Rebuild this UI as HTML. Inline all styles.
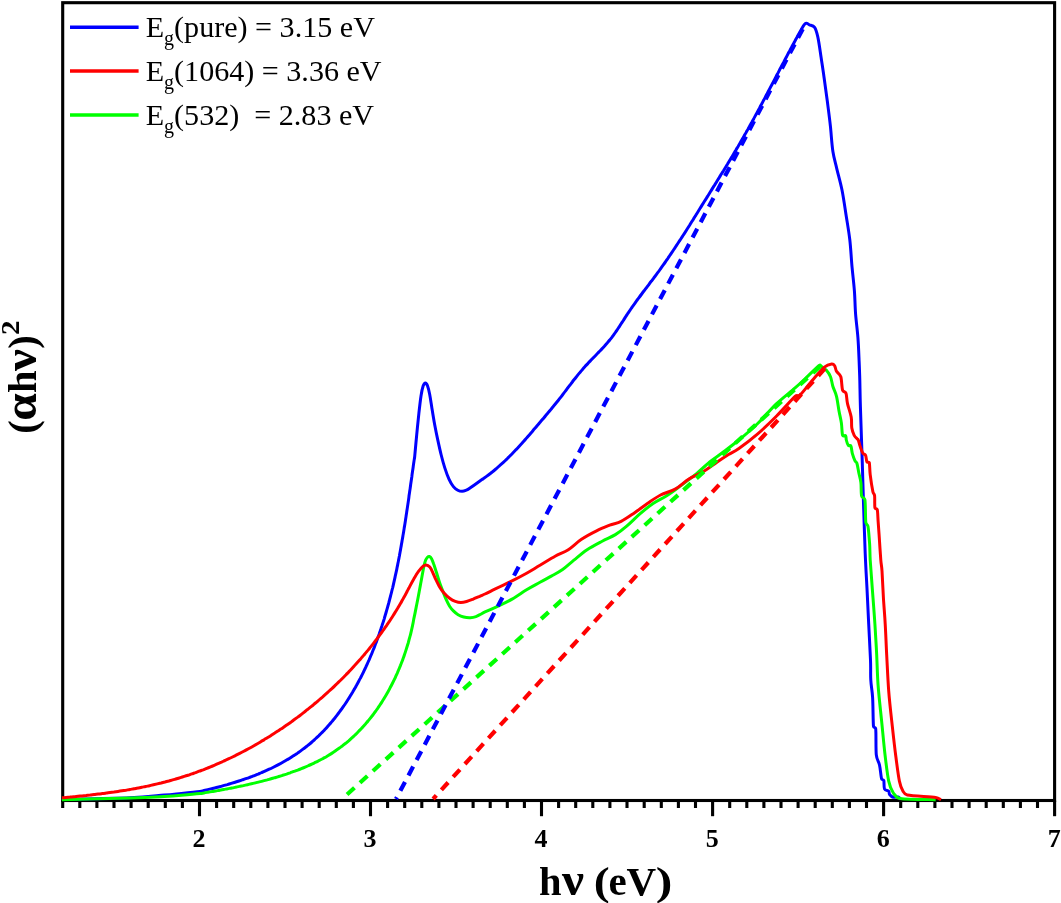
<!DOCTYPE html>
<html><head><meta charset="utf-8"><title>Tauc plot</title>
<style>
html,body{margin:0;padding:0;background:#fff;}
body{width:1061px;height:903px;overflow:hidden;position:relative;}
svg{position:absolute;left:0;top:0;display:block;}
text{font-family:"Liberation Serif","Times New Roman",serif;fill:#000;}
.tick text{font-weight:bold;font-size:26px;}
.leg{font-size:30.1px;}
.sub{font-size:20px;}
</style></head><body>
<svg width="1061" height="903" viewBox="0 0 1061 903">
<rect x="0" y="0" width="1061" height="903" fill="#fff"/>
<g stroke="#000" stroke-width="3.1" fill="none">
<rect x="62.7" y="2.7" width="991.9" height="797.8"/>
<line x1="62.7" y1="800.5" x2="62.7" y2="808"/><line x1="79.8" y1="800.5" x2="79.8" y2="808"/><line x1="96.9" y1="800.5" x2="96.9" y2="808"/><line x1="114.0" y1="800.5" x2="114.0" y2="808"/><line x1="131.1" y1="800.5" x2="131.1" y2="808"/><line x1="148.2" y1="800.5" x2="148.2" y2="808"/><line x1="165.3" y1="800.5" x2="165.3" y2="808"/><line x1="182.4" y1="800.5" x2="182.4" y2="808"/><line x1="199.5" y1="800.5" x2="199.5" y2="816.2"/><line x1="216.6" y1="800.5" x2="216.6" y2="808"/><line x1="233.7" y1="800.5" x2="233.7" y2="808"/><line x1="250.8" y1="800.5" x2="250.8" y2="808"/><line x1="267.9" y1="800.5" x2="267.9" y2="808"/><line x1="285.0" y1="800.5" x2="285.0" y2="808"/><line x1="302.1" y1="800.5" x2="302.1" y2="808"/><line x1="319.2" y1="800.5" x2="319.2" y2="808"/><line x1="336.3" y1="800.5" x2="336.3" y2="808"/><line x1="353.4" y1="800.5" x2="353.4" y2="808"/><line x1="370.5" y1="800.5" x2="370.5" y2="816.2"/><line x1="387.6" y1="800.5" x2="387.6" y2="808"/><line x1="404.7" y1="800.5" x2="404.7" y2="808"/><line x1="421.8" y1="800.5" x2="421.8" y2="808"/><line x1="438.9" y1="800.5" x2="438.9" y2="808"/><line x1="456.0" y1="800.5" x2="456.0" y2="808"/><line x1="473.1" y1="800.5" x2="473.1" y2="808"/><line x1="490.2" y1="800.5" x2="490.2" y2="808"/><line x1="507.3" y1="800.5" x2="507.3" y2="808"/><line x1="524.4" y1="800.5" x2="524.4" y2="808"/><line x1="541.5" y1="800.5" x2="541.5" y2="816.2"/><line x1="558.6" y1="800.5" x2="558.6" y2="808"/><line x1="575.7" y1="800.5" x2="575.7" y2="808"/><line x1="592.8" y1="800.5" x2="592.8" y2="808"/><line x1="609.9" y1="800.5" x2="609.9" y2="808"/><line x1="627.0" y1="800.5" x2="627.0" y2="808"/><line x1="644.2" y1="800.5" x2="644.2" y2="808"/><line x1="661.3" y1="800.5" x2="661.3" y2="808"/><line x1="678.4" y1="800.5" x2="678.4" y2="808"/><line x1="695.5" y1="800.5" x2="695.5" y2="808"/><line x1="712.6" y1="800.5" x2="712.6" y2="816.2"/><line x1="729.7" y1="800.5" x2="729.7" y2="808"/><line x1="746.8" y1="800.5" x2="746.8" y2="808"/><line x1="763.9" y1="800.5" x2="763.9" y2="808"/><line x1="781.0" y1="800.5" x2="781.0" y2="808"/><line x1="798.1" y1="800.5" x2="798.1" y2="808"/><line x1="815.2" y1="800.5" x2="815.2" y2="808"/><line x1="832.3" y1="800.5" x2="832.3" y2="808"/><line x1="849.4" y1="800.5" x2="849.4" y2="808"/><line x1="866.5" y1="800.5" x2="866.5" y2="808"/><line x1="883.6" y1="800.5" x2="883.6" y2="816.2"/><line x1="900.7" y1="800.5" x2="900.7" y2="808"/><line x1="917.8" y1="800.5" x2="917.8" y2="808"/><line x1="934.9" y1="800.5" x2="934.9" y2="808"/><line x1="952.0" y1="800.5" x2="952.0" y2="808"/><line x1="969.1" y1="800.5" x2="969.1" y2="808"/><line x1="986.2" y1="800.5" x2="986.2" y2="808"/><line x1="1003.3" y1="800.5" x2="1003.3" y2="808"/><line x1="1020.4" y1="800.5" x2="1020.4" y2="808"/><line x1="1037.5" y1="800.5" x2="1037.5" y2="808"/><line x1="1054.6" y1="800.5" x2="1054.6" y2="816.2"/>
</g>
<g fill="none" stroke-width="3" stroke-linejoin="round" stroke-linecap="butt">
<path d="M62.0,799.6 C73.3,799.3 112.9,798.5 129.9,797.8 C146.9,797.0 155.6,795.8 164.2,795.1 C172.8,794.4 175.4,794.0 181.4,793.4 C187.4,792.8 196.2,791.9 200.0,791.4 C202.0,791.2 202.6,790.8 203.9,790.5 C205.2,790.2 206.5,789.9 207.8,789.6 C209.1,789.3 210.4,789.0 211.7,788.7 C213.0,788.4 214.3,788.0 215.6,787.7 C216.9,787.4 218.2,787.0 219.5,786.7 C220.8,786.4 222.1,786.0 223.4,785.6 C224.7,785.3 226.0,784.9 227.3,784.6 C228.6,784.2 229.9,783.8 231.2,783.4 C232.5,783.0 233.8,782.6 235.1,782.2 C236.4,781.8 237.7,781.4 239.0,781.0 C240.3,780.6 241.5,780.2 242.8,779.7 C244.1,779.3 245.4,778.9 246.7,778.4 C248.0,778.0 249.2,777.5 250.5,777.0 C251.8,776.6 253.0,776.1 254.3,775.6 C255.6,775.1 256.8,774.6 258.1,774.1 C259.3,773.6 260.6,773.1 261.8,772.5 C263.1,772.0 264.3,771.5 265.5,770.9 C266.8,770.4 268.0,769.8 269.2,769.2 C270.4,768.7 271.7,768.1 272.9,767.5 C274.1,766.9 275.3,766.3 276.5,765.7 C277.7,765.1 278.9,764.4 280.0,763.8 C281.2,763.2 282.4,762.5 283.6,761.8 C284.7,761.2 285.9,760.5 287.0,759.8 C288.2,759.1 289.3,758.5 290.5,757.7 C291.6,757.0 292.7,756.3 293.8,755.6 C295.0,754.9 296.1,754.1 297.2,753.4 C298.3,752.6 299.3,751.9 300.4,751.1 C301.5,750.3 302.6,749.5 303.6,748.7 C304.7,747.9 305.7,747.1 306.8,746.3 C307.8,745.5 308.8,744.6 309.9,743.8 C310.9,742.9 311.9,742.1 312.9,741.2 C313.9,740.3 314.8,739.4 315.8,738.5 C316.8,737.6 317.7,736.7 318.7,735.8 C319.6,734.9 320.6,734.0 321.5,733.0 C322.4,732.1 323.4,731.2 324.3,730.2 C325.2,729.2 326.1,728.3 327.0,727.3 C327.8,726.3 328.7,725.3 329.6,724.3 C330.5,723.3 331.3,722.3 332.2,721.3 C333.0,720.3 333.8,719.3 334.7,718.2 C335.5,717.2 336.3,716.2 337.1,715.1 C337.9,714.1 338.7,713.0 339.5,711.9 C340.3,710.9 341.1,709.8 341.9,708.7 C342.6,707.6 343.4,706.5 344.1,705.5 C344.9,704.4 345.6,703.3 346.4,702.1 C347.1,701.0 347.8,699.9 348.5,698.8 C349.2,697.7 350.0,696.5 350.6,695.4 C351.3,694.3 352.0,693.1 352.7,692.0 C353.4,690.8 354.1,689.7 354.7,688.5 C355.4,687.4 356.0,686.2 356.7,685.0 C357.3,683.9 358.0,682.7 358.6,681.5 C359.2,680.3 359.8,679.1 360.5,678.0 C361.1,676.8 361.7,675.6 362.3,674.4 C362.9,673.2 363.5,672.0 364.0,670.8 C364.6,669.6 365.2,668.4 365.8,667.2 C366.3,666.0 366.9,664.8 367.4,663.6 C368.0,662.3 368.5,661.1 369.1,659.9 C369.6,658.7 370.1,657.5 370.6,656.2 C371.2,655.0 371.7,653.8 372.2,652.5 C372.7,651.3 373.2,650.1 373.7,648.8 C374.2,647.6 374.7,646.4 375.1,645.1 C375.6,643.9 376.1,642.6 376.6,641.4 C377.0,640.1 377.5,638.9 377.9,637.6 C378.4,636.4 378.8,635.1 379.3,633.8 C379.7,632.6 380.1,631.3 380.6,630.1 C381.0,628.8 381.4,627.5 381.8,626.3 C382.2,625.0 382.7,623.7 383.1,622.4 C383.5,621.2 383.9,619.9 384.3,618.6 C384.6,617.3 385.0,616.1 385.4,614.8 C385.8,613.5 386.2,612.2 386.5,610.9 C386.9,609.6 387.3,608.3 387.6,607.1 C388.0,605.8 388.3,604.5 388.7,603.2 C389.0,601.9 389.4,600.6 389.7,599.3 C390.1,598.0 390.4,596.7 390.7,595.4 C391.1,594.1 391.4,592.8 391.7,591.5 C392.0,590.2 392.3,588.9 392.7,587.6 C393.0,586.3 393.3,585.0 393.6,583.6 C393.9,582.3 394.2,581.0 394.5,579.7 C394.8,578.4 395.1,577.1 395.3,575.8 C395.6,574.5 395.9,573.1 396.2,571.8 C396.5,570.5 396.8,569.2 397.0,567.9 C397.3,566.5 397.6,565.2 397.8,563.9 C398.1,562.6 398.4,561.3 398.6,559.9 C398.9,558.6 399.1,557.3 399.4,556.0 C399.6,554.6 399.9,553.3 400.1,552.0 C400.4,550.7 400.6,549.3 400.8,548.0 C401.1,546.7 401.3,545.4 401.5,544.0 C401.8,542.7 402.0,541.4 402.2,540.0 C402.5,538.7 402.7,537.4 402.9,536.0 C403.1,534.7 403.4,533.4 403.6,532.1 C403.8,530.7 404.0,529.4 404.2,528.1 C404.4,526.7 404.7,525.4 404.9,524.1 C405.1,522.7 405.3,521.4 405.5,520.1 C405.7,518.7 405.9,517.4 406.1,516.1 C406.3,514.7 406.5,513.4 406.7,512.1 C406.9,510.7 407.1,509.4 407.3,508.1 C407.5,506.8 407.7,505.4 407.9,504.1 C408.1,502.8 408.3,501.4 408.5,500.1 C408.7,498.8 408.9,497.4 409.0,496.1 C409.2,494.8 409.4,493.5 409.6,492.1 C409.8,490.8 410.0,489.5 410.2,488.1 C410.4,486.8 410.6,485.5 410.7,484.2 C410.9,482.8 411.1,481.5 411.3,480.2 C411.5,478.9 411.7,477.5 411.9,476.2 C412.0,474.9 412.2,473.6 412.4,472.3 C412.6,470.9 412.8,469.6 413.0,468.3 C413.2,467.0 413.3,465.7 413.5,464.4 C413.7,463.0 413.9,461.7 414.1,460.4 C414.3,459.1 414.5,458.5 414.7,456.5 C415.1,452.2 416.0,442.0 416.7,434.8 C417.4,427.6 418.2,419.7 418.9,413.2 C419.6,406.7 420.3,400.5 421.0,395.9 C421.7,391.3 422.5,387.9 423.2,385.8 C423.8,384.1 424.7,383.0 425.4,383.0 C426.1,383.0 426.9,384.2 427.5,385.8 C428.2,387.7 429.0,390.9 429.7,394.5 C430.4,398.1 431.0,402.4 431.8,407.4 C432.6,412.4 433.7,419.4 434.7,424.7 C435.7,430.0 436.5,434.1 437.6,439.1 C438.7,444.2 440.0,450.2 441.2,455.0 C442.4,459.8 443.5,463.8 444.8,467.9 C446.1,472.0 447.7,476.3 449.1,479.4 C450.5,482.5 451.9,484.8 453.4,486.6 C454.8,488.4 456.4,489.4 457.8,490.2 C459.2,491.0 460.7,491.3 462.1,491.3 C463.5,491.3 465.1,490.7 466.4,490.2 C467.7,489.7 468.3,489.3 470.0,488.1 C472.2,486.6 477.7,482.6 479.9,481.0 C481.5,479.8 482.1,479.5 483.2,478.7 C484.3,478.0 485.4,477.2 486.5,476.4 C487.6,475.6 488.7,474.8 489.7,474.0 C490.8,473.2 491.8,472.3 492.9,471.5 C493.9,470.7 494.9,469.8 495.9,469.0 C496.9,468.1 498.0,467.2 498.9,466.3 C499.9,465.5 500.9,464.6 501.9,463.7 C502.9,462.8 503.9,461.9 504.8,461.0 C505.8,460.1 506.8,459.1 507.7,458.2 C508.7,457.3 509.6,456.3 510.5,455.4 C511.5,454.5 512.4,453.5 513.3,452.5 C514.2,451.6 515.2,450.6 516.1,449.6 C517.0,448.7 517.9,447.7 518.8,446.7 C519.7,445.7 520.6,444.7 521.5,443.8 C522.4,442.8 523.3,441.8 524.2,440.8 C525.1,439.8 525.9,438.8 526.8,437.8 C527.7,436.7 528.6,435.7 529.5,434.7 C530.3,433.7 531.2,432.7 532.1,431.7 C533.0,430.6 533.8,429.6 534.7,428.6 C535.6,427.6 536.5,426.5 537.3,425.5 C538.2,424.5 539.1,423.5 539.9,422.4 C540.8,421.4 541.7,420.4 542.6,419.3 C543.4,418.3 544.3,417.3 545.2,416.2 C546.0,415.2 546.9,414.2 547.8,413.1 C548.7,412.1 549.5,411.1 550.4,410.0 C551.2,409.0 552.1,408.0 552.9,406.9 C553.8,405.9 554.6,404.9 555.5,403.8 C556.3,402.8 557.1,401.8 558.0,400.7 C558.8,399.7 559.6,398.7 560.4,397.6 C561.2,396.6 562.0,395.5 562.8,394.5 C563.6,393.5 564.4,392.4 565.2,391.4 C566.0,390.3 566.7,389.3 567.5,388.2 C568.3,387.2 569.1,386.2 569.9,385.1 C570.7,384.1 571.5,383.0 572.3,382.0 C573.1,380.9 574.0,379.8 574.8,378.8 C575.6,377.7 576.5,376.7 577.3,375.6 C578.1,374.6 579.0,373.5 579.9,372.5 C580.7,371.5 581.6,370.4 582.5,369.4 C583.4,368.4 584.3,367.3 585.2,366.3 C586.1,365.3 587.0,364.4 587.9,363.4 C588.8,362.4 589.8,361.4 590.7,360.4 C591.6,359.5 592.6,358.5 593.5,357.6 C594.4,356.6 595.4,355.6 596.3,354.7 C597.2,353.7 598.2,352.8 599.1,351.8 C600.0,350.9 600.9,349.9 601.9,348.9 C602.8,348.0 603.7,347.0 604.6,346.0 C605.4,345.0 606.3,344.0 607.2,343.0 C608.0,342.0 608.9,341.0 609.7,340.0 C610.6,339.0 611.4,337.9 612.2,336.9 C613.0,335.8 613.7,334.8 614.5,333.7 C615.3,332.6 616.0,331.5 616.8,330.5 C617.5,329.4 618.2,328.3 619.0,327.2 C619.7,326.0 620.4,324.9 621.1,323.8 C621.8,322.7 622.6,321.6 623.3,320.5 C624.0,319.3 624.7,318.2 625.4,317.1 C626.2,316.0 626.9,314.8 627.6,313.7 C628.4,312.6 629.1,311.5 629.9,310.4 C630.6,309.3 631.4,308.2 632.1,307.1 C632.9,306.0 633.7,304.9 634.5,303.8 C635.3,302.7 636.1,301.6 636.8,300.5 C637.6,299.4 638.4,298.3 639.3,297.2 C640.1,296.2 640.9,295.1 641.7,294.0 C642.5,292.9 643.3,291.8 644.1,290.8 C644.9,289.7 645.7,288.6 646.6,287.5 C647.4,286.4 648.2,285.4 649.0,284.3 C649.8,283.2 650.6,282.1 651.5,281.1 C652.3,280.0 653.1,278.9 653.9,277.8 C654.7,276.8 655.5,275.7 656.3,274.6 C657.1,273.5 657.9,272.4 658.7,271.4 C659.5,270.3 660.2,269.2 661.0,268.1 C661.8,267.0 662.6,265.9 663.3,264.9 C664.1,263.8 664.9,262.7 665.6,261.6 C666.4,260.5 667.1,259.4 667.9,258.3 C668.6,257.2 669.4,256.1 670.1,255.0 C670.9,253.9 671.6,252.8 672.4,251.7 C673.1,250.6 673.8,249.5 674.6,248.4 C675.3,247.3 676.0,246.2 676.7,245.1 C677.5,244.0 678.2,242.9 678.9,241.8 C679.6,240.7 680.4,239.6 681.1,238.5 C681.8,237.4 682.5,236.3 683.2,235.2 C683.9,234.1 684.6,233.0 685.4,231.8 C686.1,230.7 686.8,229.6 687.5,228.5 C688.2,227.4 688.9,226.3 689.6,225.2 C690.3,224.0 691.0,222.9 691.7,221.8 C692.4,220.7 693.1,219.6 693.8,218.4 C694.5,217.3 695.2,216.2 695.9,215.1 C696.6,213.9 697.3,212.8 698.0,211.7 C698.7,210.6 699.4,209.4 700.1,208.3 C700.8,207.2 701.5,206.0 702.2,204.9 C702.9,203.8 703.6,202.7 704.3,201.5 C705.0,200.4 705.7,199.3 706.5,198.1 C707.2,197.0 707.9,195.8 708.6,194.7 C709.3,193.6 710.0,192.4 710.7,191.3 C711.4,190.2 712.1,189.0 712.8,187.9 C713.5,186.7 714.3,185.6 715.0,184.4 C715.7,183.3 716.4,182.2 717.1,181.0 C717.8,179.9 718.5,178.7 719.2,177.6 C719.9,176.4 720.6,175.3 721.3,174.1 C722.1,173.0 722.8,171.8 723.5,170.7 C724.2,169.5 724.9,168.4 725.6,167.2 C726.3,166.1 727.0,164.9 727.7,163.8 C728.4,162.6 729.1,161.5 729.8,160.3 C730.5,159.2 731.2,158.0 731.9,156.9 C732.6,155.7 733.3,154.5 734.0,153.4 C734.6,152.2 735.3,151.1 736.0,149.9 C736.7,148.7 737.4,147.6 738.1,146.4 C738.7,145.3 739.4,144.1 740.1,142.9 C740.8,141.8 741.4,140.6 742.1,139.4 C742.8,138.3 743.5,137.1 744.1,136.0 C744.8,134.8 745.4,133.6 746.1,132.5 C746.8,131.3 747.4,130.1 748.1,129.0 C748.7,127.8 749.4,126.6 750.0,125.4 C750.7,124.3 751.3,123.1 752.0,121.9 C752.6,120.8 753.2,119.6 753.9,118.4 C754.5,117.3 755.2,116.1 755.8,114.9 C756.4,113.7 757.1,112.6 757.7,111.4 C758.3,110.2 759.0,109.0 759.6,107.9 C760.2,106.7 760.8,105.5 761.5,104.3 C762.1,103.2 762.7,102.0 763.3,100.8 C764.0,99.6 764.6,98.5 765.2,97.3 C765.8,96.1 766.5,94.9 767.1,93.8 C767.7,92.6 768.3,91.4 768.9,90.2 C769.6,89.1 770.2,87.9 770.8,86.7 C771.4,85.5 772.0,84.3 772.6,83.2 C773.3,82.0 773.9,80.8 774.5,79.6 C775.1,78.5 775.7,77.3 776.3,76.1 C777.0,74.9 777.6,73.7 778.2,72.6 C778.8,71.4 779.4,70.2 780.0,69.0 C780.7,67.8 781.3,66.7 781.9,65.5 C782.5,64.3 783.1,63.1 783.8,62.0 C784.4,60.8 785.0,59.6 785.6,58.4 C786.2,57.2 786.9,56.1 787.5,54.9 C788.1,53.7 788.7,52.5 789.4,51.3 C790.0,50.2 790.6,49.0 791.3,47.8 C791.9,46.6 792.5,45.5 793.2,44.3 C793.8,43.1 794.4,41.9 795.1,40.7 C795.7,39.6 796.3,38.4 797.0,37.2 C797.6,36.0 797.9,35.4 798.9,33.7 C800.3,31.4 803.4,25.1 805.2,23.6 C806.9,22.2 807.8,24.2 809.4,24.8 C811.0,25.4 813.2,25.3 814.6,27.3 C816.0,29.3 816.7,31.9 817.8,36.8 C818.9,41.7 820.0,50.0 821.0,56.8 C822.0,63.6 823.1,70.4 824.1,77.8 C825.1,85.2 826.2,92.9 827.3,101.0 C828.3,109.1 829.5,117.8 830.4,126.2 C831.3,134.6 831.8,144.5 832.9,151.5 C834.0,158.5 835.2,161.9 836.7,168.3 C838.2,174.7 840.4,182.0 842.0,190.0 C843.6,198.0 845.0,208.2 846.3,216.5 C847.6,224.8 848.8,231.3 849.8,239.8 C850.8,248.3 851.3,259.2 852.1,267.7 C852.9,276.2 853.8,283.1 854.4,290.9 C855.0,298.6 855.0,306.4 855.6,314.2 C856.2,321.9 857.3,329.6 857.9,337.4 C858.5,345.1 858.8,353.6 859.1,360.7 C859.4,367.8 859.6,372.4 859.8,380.0 C860.0,387.6 860.0,393.3 860.4,406.6 C860.8,420.5 861.8,447.5 862.3,463.1 C862.8,478.7 862.9,485.0 863.4,500.0 C863.9,515.0 864.6,538.4 865.2,553.2 C865.8,568.0 866.4,576.8 867.0,588.6 C867.6,600.4 868.1,612.1 868.7,624.0 C869.3,635.9 870.1,650.7 870.5,660.0 C870.9,669.3 870.4,673.8 870.8,680.0 C871.1,686.2 872.1,689.5 872.6,697.3 C873.1,705.0 873.0,721.3 873.5,726.5 C873.6,728.0 875.6,727.1 875.7,728.6 C876.2,733.3 875.7,748.8 876.3,754.9 C876.9,760.2 878.6,761.0 879.5,765.0 C880.4,769.0 880.9,776.2 881.6,778.8 C882.0,780.1 883.4,779.2 883.8,780.5 C884.3,782.2 883.7,787.2 884.5,789.0 C885.3,790.8 887.8,790.1 888.6,791.0 C889.5,791.9 888.8,793.5 889.6,794.5 C890.4,795.5 891.8,796.8 893.2,797.2 C894.6,797.6 897.0,796.7 898.2,797.0 C899.4,797.3 900.0,798.8 900.4,799.2" stroke="#0000ff"/>
<path d="M62.0,799.7 C73.3,799.4 112.9,798.6 129.9,798.1 C146.9,797.6 155.6,797.0 164.2,796.5 C172.8,796.0 175.4,795.8 181.4,795.3 C187.4,794.8 196.3,794.0 200.0,793.6 C202.0,793.4 202.6,793.2 203.9,793.0 C205.2,792.7 206.6,792.5 207.9,792.3 C209.2,792.1 210.5,791.9 211.8,791.6 C213.1,791.4 214.4,791.2 215.7,791.0 C217.1,790.7 218.4,790.5 219.7,790.2 C221.0,790.0 222.3,789.8 223.7,789.5 C225.0,789.3 226.3,789.0 227.6,788.8 C228.9,788.5 230.3,788.3 231.6,788.0 C232.9,787.8 234.2,787.5 235.6,787.2 C236.9,787.0 238.2,786.7 239.5,786.4 C240.9,786.1 242.2,785.9 243.5,785.6 C244.8,785.3 246.2,785.0 247.5,784.7 C248.8,784.4 250.1,784.1 251.4,783.8 C252.8,783.5 254.1,783.2 255.4,782.9 C256.7,782.6 258.0,782.2 259.3,781.9 C260.6,781.6 261.9,781.3 263.3,780.9 C264.6,780.6 265.9,780.2 267.2,779.9 C268.5,779.5 269.8,779.2 271.1,778.8 C272.4,778.4 273.7,778.1 274.9,777.7 C276.2,777.3 277.5,776.9 278.8,776.5 C280.1,776.1 281.4,775.7 282.6,775.3 C283.9,774.9 285.2,774.5 286.5,774.1 C287.7,773.7 289.0,773.2 290.2,772.8 C291.5,772.3 292.8,771.9 294.0,771.4 C295.3,771.0 296.5,770.5 297.7,770.1 C299.0,769.6 300.2,769.1 301.4,768.6 C302.7,768.1 303.9,767.6 305.1,767.1 C306.3,766.6 307.5,766.1 308.7,765.5 C310.0,765.0 311.1,764.5 312.3,763.9 C313.5,763.3 314.7,762.8 315.9,762.2 C317.1,761.6 318.2,761.0 319.4,760.4 C320.6,759.8 321.7,759.2 322.9,758.6 C324.0,758.0 325.2,757.3 326.3,756.7 C327.4,756.0 328.5,755.3 329.7,754.6 C330.8,754.0 331.9,753.3 333.0,752.5 C334.1,751.8 335.1,751.1 336.2,750.3 C337.3,749.6 338.4,748.8 339.4,748.1 C340.5,747.3 341.5,746.5 342.6,745.7 C343.6,744.9 344.6,744.1 345.7,743.3 C346.7,742.5 347.7,741.6 348.7,740.8 C349.7,739.9 350.7,739.0 351.6,738.2 C352.6,737.3 353.6,736.4 354.5,735.5 C355.5,734.6 356.4,733.7 357.4,732.7 C358.3,731.8 359.2,730.8 360.1,729.9 C361.0,728.9 361.9,728.0 362.8,727.0 C363.7,726.0 364.6,725.0 365.5,724.0 C366.3,723.0 367.2,722.0 368.0,721.0 C368.9,720.0 369.7,718.9 370.5,717.9 C371.4,716.9 372.2,715.8 373.0,714.8 C373.8,713.7 374.6,712.6 375.4,711.5 C376.2,710.5 376.9,709.4 377.7,708.3 C378.4,707.2 379.2,706.1 379.9,705.0 C380.7,703.8 381.4,702.7 382.1,701.6 C382.8,700.4 383.6,699.3 384.2,698.2 C384.9,697.0 385.6,695.9 386.3,694.7 C387.0,693.5 387.6,692.4 388.3,691.2 C389.0,690.0 389.6,688.8 390.2,687.6 C390.9,686.4 391.5,685.2 392.1,684.0 C392.7,682.8 393.3,681.6 393.9,680.4 C394.5,679.2 395.1,678.0 395.6,676.8 C396.2,675.5 396.7,674.3 397.3,673.1 C397.8,671.8 398.4,670.6 398.9,669.3 C399.4,668.1 399.9,666.8 400.4,665.6 C400.9,664.3 401.4,663.1 401.9,661.8 C402.4,660.6 402.8,659.3 403.3,658.0 C403.8,656.8 404.2,655.5 404.6,654.2 C405.1,652.9 405.5,651.7 405.9,650.4 C406.3,649.1 406.7,647.8 407.1,646.5 C407.5,645.3 407.9,644.0 408.3,642.7 C408.6,641.4 409.0,640.1 409.3,638.8 C409.7,637.5 410.0,636.2 410.4,635.0 C410.7,633.7 411.0,632.4 411.3,631.1 C411.6,629.8 411.9,628.5 412.2,627.2 C412.5,625.9 412.7,624.6 413.0,623.3 C413.3,622.0 413.4,621.4 413.7,619.4 C414.3,616.7 415.5,610.8 416.2,607.1 C416.9,603.4 417.5,600.9 418.2,597.0 C418.9,593.1 419.9,588.1 420.6,584.0 C421.4,579.9 422.1,575.7 422.7,572.5 C423.3,569.3 423.7,567.0 424.2,565.0 C424.7,563.0 425.1,561.5 425.6,560.2 C426.2,558.9 426.9,557.8 427.5,557.2 C428.1,556.6 428.8,556.3 429.4,556.5 C430.0,556.7 430.7,557.1 431.3,558.2 C432.0,559.4 432.8,561.4 433.6,563.8 C434.5,566.1 435.4,569.3 436.4,572.3 C437.3,575.3 438.4,578.9 439.3,581.7 C440.2,584.5 441.0,586.5 442.1,589.3 C443.2,592.1 444.6,595.9 445.8,598.7 C447.1,601.5 448.3,604.2 449.6,606.2 C450.9,608.2 452.0,609.5 453.4,610.9 C454.8,612.3 456.4,613.7 458.1,614.7 C459.8,615.7 461.7,616.5 463.7,617.0 C465.7,617.5 468.2,617.8 470.3,617.7 C472.4,617.6 474.3,617.2 476.0,616.6 C477.7,616.0 479.2,615.0 480.7,614.2 C482.2,613.4 482.8,612.9 485.0,611.9 C487.8,610.6 493.1,608.4 497.6,606.3 C502.1,604.2 507.3,601.9 512.1,599.1 C516.9,596.4 522.0,592.6 526.6,589.8 C531.2,587.0 535.9,584.6 540.0,582.3 C544.1,580.0 547.5,578.2 551.3,576.1 C555.1,574.0 558.8,572.2 562.6,569.5 C566.4,566.8 569.8,563.4 573.9,560.1 C578.0,556.8 582.4,552.9 587.1,549.7 C591.8,546.6 597.5,543.7 602.2,541.2 C606.9,538.7 611.3,537.1 615.4,534.6 C619.5,532.1 622.6,529.6 626.7,526.1 C630.8,522.6 635.5,517.7 639.9,513.9 C644.3,510.1 648.7,506.5 653.1,503.5 C657.5,500.5 661.9,498.8 666.3,496.0 C670.7,493.2 674.8,490.1 679.5,486.6 C684.2,483.1 689.6,479.3 694.6,475.2 C699.6,471.1 705.1,465.7 709.7,462.0 C714.3,458.3 717.1,456.7 722.0,453.0 C726.9,449.3 732.9,444.9 738.9,440.0 C744.9,435.1 751.4,429.6 757.7,423.5 C764.0,417.4 770.3,409.7 776.6,403.7 C782.9,397.7 790.1,392.4 795.4,387.7 C800.7,383.0 804.6,379.1 808.6,375.4 C812.6,371.6 817.4,366.7 819.5,365.2 C820.5,364.5 820.5,365.8 821.5,366.5 C822.6,367.3 824.7,368.4 826.2,370.1 C827.7,371.8 829.4,374.1 830.5,376.8 C831.6,379.5 831.9,383.2 832.9,386.5 C833.9,389.8 835.5,392.2 836.5,396.3 C837.5,400.4 838.2,406.4 839.0,410.9 C839.8,415.4 840.8,419.0 841.4,423.1 C842.0,427.2 841.9,433.2 842.6,435.3 C843.1,436.8 845.1,435.0 845.7,435.8 C846.3,436.6 845.9,438.4 846.3,440.0 C846.7,441.6 847.5,444.3 848.3,445.3 C849.1,446.3 850.3,444.8 850.9,446.0 C851.6,447.3 851.6,450.9 852.3,453.3 C853.0,455.7 854.1,458.9 854.9,460.6 C855.6,462.1 856.4,461.7 856.9,463.3 C857.6,465.4 858.2,470.0 858.9,473.2 C859.6,476.4 860.4,478.7 860.9,482.5 C861.4,486.3 860.9,492.9 861.6,495.8 C862.2,498.3 864.5,497.2 864.9,499.8 C865.6,504.2 865.3,518.0 865.8,522.4 C866.1,524.7 867.6,524.2 868.0,526.4 C868.6,530.0 869.2,538.1 869.6,543.7 C870.0,549.3 869.8,552.5 870.2,560.0 C870.7,567.5 871.5,577.9 872.3,588.6 C873.1,599.3 874.2,612.9 874.9,624.0 C875.6,635.1 876.2,644.8 876.7,655.0 C877.2,665.2 877.3,674.4 878.1,685.4 C878.9,696.4 880.4,709.1 881.6,720.9 C882.8,732.7 884.0,746.3 885.2,756.3 C886.4,766.3 887.4,775.0 888.7,781.1 C890.0,787.2 891.3,789.8 893.2,792.7 C895.1,795.6 895.8,797.8 900.3,798.5 C907.4,799.7 929.8,799.5 935.7,799.7" stroke="#00ff00"/>
<path d="M62.0,797.8 C62.6,797.7 64.6,797.5 66.0,797.4 C67.3,797.3 68.7,797.2 70.0,797.1 C71.3,796.9 72.7,796.8 74.0,796.7 C75.4,796.6 76.7,796.4 78.0,796.3 C79.4,796.2 80.7,796.0 82.1,795.9 C83.4,795.8 84.7,795.6 86.1,795.5 C87.4,795.3 88.7,795.2 90.1,795.1 C91.4,794.9 92.7,794.8 94.1,794.6 C95.4,794.4 96.7,794.3 98.1,794.1 C99.4,794.0 100.7,793.8 102.1,793.6 C103.4,793.5 104.7,793.3 106.1,793.1 C107.4,792.9 108.7,792.8 110.0,792.6 C111.4,792.4 112.7,792.2 114.0,792.0 C115.3,791.8 116.7,791.6 118.0,791.4 C119.3,791.2 120.6,791.0 121.9,790.8 C123.3,790.6 124.6,790.4 125.9,790.2 C127.2,790.0 128.5,789.7 129.9,789.5 C131.2,789.3 132.5,789.0 133.8,788.8 C135.1,788.6 136.4,788.3 137.7,788.1 C139.0,787.8 140.4,787.6 141.7,787.3 C143.0,787.0 144.3,786.8 145.6,786.5 C146.9,786.2 148.2,786.0 149.5,785.7 C150.8,785.4 152.1,785.1 153.4,784.8 C154.7,784.5 156.0,784.2 157.3,783.9 C158.6,783.6 159.9,783.3 161.2,783.0 C162.5,782.6 163.7,782.3 165.0,782.0 C166.3,781.6 167.6,781.3 168.9,781.0 C170.2,780.6 171.5,780.3 172.7,779.9 C174.0,779.5 175.3,779.2 176.6,778.8 C177.9,778.4 179.1,778.0 180.4,777.6 C181.7,777.2 182.9,776.8 184.2,776.4 C185.5,776.0 186.7,775.6 188.0,775.2 C189.3,774.8 190.5,774.3 191.8,773.9 C193.1,773.5 194.3,773.0 195.6,772.6 C196.8,772.1 198.1,771.7 199.3,771.2 C200.6,770.7 201.8,770.3 203.1,769.8 C204.3,769.3 205.6,768.8 206.8,768.3 C208.1,767.8 209.3,767.3 210.5,766.8 C211.8,766.3 213.0,765.8 214.2,765.3 C215.5,764.8 216.7,764.3 217.9,763.7 C219.1,763.2 220.4,762.6 221.6,762.1 C222.8,761.5 224.0,761.0 225.2,760.4 C226.5,759.9 227.7,759.3 228.9,758.7 C230.1,758.2 231.3,757.6 232.5,757.0 C233.7,756.4 234.9,755.8 236.1,755.2 C237.3,754.6 238.5,754.0 239.7,753.4 C240.9,752.8 242.1,752.2 243.3,751.5 C244.5,750.9 245.6,750.3 246.8,749.6 C248.0,749.0 249.2,748.4 250.4,747.7 C251.5,747.1 252.7,746.4 253.9,745.7 C255.0,745.1 256.2,744.4 257.4,743.7 C258.5,743.1 259.7,742.4 260.8,741.7 C262.0,741.0 263.1,740.3 264.3,739.6 C265.4,738.9 266.6,738.2 267.7,737.5 C268.9,736.8 270.0,736.1 271.1,735.4 C272.3,734.7 273.4,733.9 274.5,733.2 C275.7,732.5 276.8,731.7 277.9,731.0 C279.0,730.3 280.1,729.5 281.3,728.8 C282.4,728.0 283.5,727.3 284.6,726.5 C285.7,725.7 286.8,725.0 287.9,724.2 C289.0,723.4 290.1,722.6 291.2,721.9 C292.3,721.1 293.3,720.3 294.4,719.5 C295.5,718.7 296.6,717.9 297.7,717.1 C298.7,716.3 299.8,715.5 300.9,714.7 C301.9,713.9 303.0,713.0 304.1,712.2 C305.1,711.4 306.2,710.6 307.2,709.7 C308.3,708.9 309.3,708.1 310.4,707.2 C311.4,706.4 312.4,705.5 313.5,704.7 C314.5,703.8 315.5,703.0 316.6,702.1 C317.6,701.2 318.6,700.4 319.6,699.5 C320.6,698.6 321.6,697.8 322.7,696.9 C323.7,696.0 324.7,695.1 325.7,694.2 C326.7,693.3 327.7,692.4 328.6,691.5 C329.6,690.6 330.6,689.7 331.6,688.8 C332.6,687.9 333.6,687.0 334.5,686.1 C335.5,685.1 336.5,684.2 337.4,683.3 C338.4,682.4 339.3,681.4 340.3,680.5 C341.3,679.5 342.2,678.6 343.1,677.7 C344.1,676.7 345.0,675.8 346.0,674.8 C346.9,673.8 347.8,672.9 348.7,671.9 C349.7,670.9 350.6,670.0 351.5,669.0 C352.4,668.0 353.3,667.0 354.2,666.0 C355.1,665.1 356.0,664.1 356.9,663.1 C357.8,662.1 358.7,661.1 359.6,660.1 C360.5,659.1 361.3,658.1 362.2,657.1 C363.1,656.0 364.0,655.0 364.8,654.0 C365.7,653.0 366.5,652.0 367.4,650.9 C368.2,649.9 369.1,648.9 369.9,647.8 C370.8,646.8 371.6,645.7 372.4,644.7 C373.2,643.6 374.1,642.6 374.9,641.5 C375.7,640.5 376.5,639.4 377.3,638.3 C378.1,637.3 378.9,636.2 379.7,635.1 C380.5,634.1 381.3,633.0 382.1,631.9 C382.9,630.8 383.6,629.7 384.4,628.6 C385.2,627.5 385.9,626.4 386.7,625.3 C387.4,624.2 388.2,623.1 388.9,622.0 C389.7,620.9 390.4,619.8 391.1,618.7 C391.9,617.6 392.6,616.4 393.3,615.3 C394.0,614.2 394.7,613.0 395.4,611.9 C396.1,610.8 396.8,609.6 397.5,608.5 C398.2,607.3 398.9,606.2 399.6,605.0 C400.3,603.9 400.9,602.7 401.6,601.6 C402.2,600.4 402.9,599.3 403.5,598.1 C404.2,596.9 404.8,595.7 405.5,594.6 C406.1,593.4 406.7,592.2 407.3,591.0 C408.0,589.8 408.2,589.2 409.2,587.5 C410.3,585.4 412.2,581.6 413.8,578.9 C415.4,576.2 416.9,573.5 418.5,571.4 C420.1,569.3 421.9,567.3 423.2,566.2 C424.4,565.2 425.0,564.9 426.1,565.0 C427.2,565.1 428.7,565.9 429.8,567.1 C430.9,568.3 431.8,570.3 432.7,572.3 C433.6,574.3 434.4,576.5 435.5,578.9 C436.6,581.2 437.9,584.0 439.3,586.4 C440.7,588.8 442.3,591.0 444.0,593.0 C445.7,595.0 447.7,596.8 449.6,598.2 C451.5,599.6 453.4,600.6 455.3,601.3 C457.2,602.0 459.0,602.4 460.9,602.4 C462.8,602.4 464.6,602.0 466.6,601.5 C468.7,601.0 471.0,600.0 473.2,599.1 C475.4,598.2 477.7,597.1 479.7,596.3 C481.7,595.4 483.1,594.9 485.0,594.0 C486.9,593.1 488.2,592.4 491.4,590.8 C495.6,588.8 504.1,584.8 510.0,581.9 C515.9,579.0 521.6,576.0 526.6,573.2 C531.6,570.4 535.2,568.1 540.0,565.3 C544.8,562.5 550.4,558.9 555.1,556.3 C559.8,553.7 563.9,552.5 568.3,549.7 C572.7,546.9 576.8,542.4 581.5,539.3 C586.2,536.1 591.9,533.1 596.6,530.8 C601.3,528.4 605.6,526.8 609.7,525.2 C613.8,523.6 617.0,523.5 621.1,521.4 C625.2,519.3 629.9,515.9 634.3,512.9 C638.7,509.9 643.0,506.5 647.4,503.5 C651.8,500.5 655.9,497.4 660.6,495.0 C665.3,492.6 671.0,491.5 675.7,488.8 C680.4,486.1 684.5,481.7 688.9,479.0 C693.3,476.3 697.4,475.2 702.1,472.4 C706.8,469.6 712.8,465.0 717.2,462.0 C721.6,459.0 724.9,456.8 728.5,454.5 C732.1,452.2 734.0,451.9 738.9,448.5 C743.8,445.1 751.4,439.3 757.7,433.9 C764.0,428.5 770.3,422.3 776.6,416.0 C782.9,409.7 791.5,399.7 795.4,396.2 C797.2,394.6 798.3,396.7 800.0,395.1 C802.8,392.5 808.1,385.2 812.2,380.5 C816.3,375.8 821.1,369.9 824.4,367.1 C827.4,364.5 830.0,364.2 831.7,364.0 C833.4,363.8 833.9,364.6 834.7,365.8 C835.5,367.0 835.5,369.5 836.5,371.3 C837.5,373.1 839.8,373.7 840.8,376.8 C841.8,379.9 841.7,387.5 842.6,390.2 C843.3,392.4 845.2,391.1 846.0,393.2 C846.8,395.4 846.6,399.6 847.5,403.6 C848.4,407.6 850.5,412.9 851.2,417.0 C851.9,421.1 851.3,424.9 851.8,428.0 C852.3,431.1 853.3,433.5 854.2,435.3 C855.1,437.1 856.5,438.1 857.2,438.9 C857.7,439.5 858.0,439.3 858.3,440.0 C858.8,441.3 859.4,444.4 860.2,446.6 C861.0,448.8 862.0,451.9 862.9,453.3 C863.8,454.7 864.9,453.9 865.6,455.3 C866.3,456.7 866.3,460.7 866.9,461.9 C867.5,463.0 869.0,461.4 869.3,462.6 C869.8,464.7 869.6,469.7 870.2,474.6 C870.8,479.5 872.2,488.3 872.9,491.8 C873.3,493.9 874.3,493.6 874.6,495.8 C874.9,498.5 874.5,505.5 874.9,507.8 C875.2,509.3 877.0,508.3 877.3,509.8 C877.8,512.2 877.8,517.2 878.2,522.4 C878.6,527.6 879.1,534.7 879.5,541.0 C879.9,547.3 880.4,555.0 880.8,560.0 C881.2,565.0 881.6,565.4 882.0,570.9 C882.4,577.1 882.9,588.6 883.4,597.5 C883.9,606.4 884.7,614.4 885.2,624.0 C885.8,633.6 886.1,643.9 886.7,655.0 C887.3,666.1 887.8,678.9 888.7,690.8 C889.6,702.7 891.1,715.3 892.3,726.2 C893.5,737.1 894.6,747.1 895.8,756.3 C897.0,765.4 898.2,775.3 899.4,781.1 C900.4,786.2 901.6,788.6 902.9,790.9 C904.2,793.2 904.4,794.4 907.3,795.0 C912.8,796.1 930.1,796.6 935.7,797.4 C938.6,797.8 940.1,799.3 941.0,799.7" stroke="#ff0000"/>
<path d="M342,799 L820,366.6" stroke="#00ff00" stroke-width="4.2" stroke-dasharray="10 7.45" stroke-dashoffset="-6.8"/>
<path d="M433.1,799 L826.2,367" stroke="#ff0000" stroke-width="4.2" stroke-dasharray="10 7.5" stroke-dashoffset="-12.3"/>
<path d="M396.0,799 L804.3,26" stroke="#0000ff" stroke-width="4.2" stroke-dasharray="10 7.38" stroke-dashoffset="-9.3"/>
</g>
<g stroke-width="3.4">
<line x1="70" y1="27.3" x2="138.6" y2="27.3" stroke="#0000ff"/>
<line x1="70" y1="71" x2="138.6" y2="71" stroke="#ff0000"/>
<line x1="70" y1="115" x2="138.6" y2="115" stroke="#00ff00"/>
</g>
<g class="leg">
<text x="145.7" y="36.9">E<tspan class="sub" dy="8.2">g</tspan><tspan dy="-8.2">(pure) = 3.15 eV</tspan></text>
<text x="145.7" y="81">E<tspan class="sub" dy="8.2">g</tspan><tspan dy="-8.2">(1064) = 3.36 eV</tspan></text>
<text x="145.7" y="124.5">E<tspan class="sub" dy="8.2">g</tspan><tspan dy="-8.2">(532)&#160; = 2.83 eV</tspan></text>
</g>
<g class="tick">
<text x="199.1" y="846.9" text-anchor="middle">2</text><text x="370.1" y="846.9" text-anchor="middle">3</text><text x="541.1" y="846.9" text-anchor="middle">4</text><text x="712.2" y="846.9" text-anchor="middle">5</text><text x="883.2" y="846.9" text-anchor="middle">6</text><text x="1054.2" y="846.9" text-anchor="middle">7</text>
</g>
<text y="894.8" font-weight="bold"><tspan x="538.94" font-size="40.5">h</tspan><tspan x="562.12" font-size="46.5" textLength="22.03" lengthAdjust="spacingAndGlyphs">ν</tspan> <tspan x="593.80" font-size="41" textLength="15.95" lengthAdjust="spacingAndGlyphs">(</tspan><tspan x="608.50" font-size="41">e</tspan><tspan x="626.44" font-size="41">V</tspan><tspan x="655.79" font-size="41" textLength="16.60" lengthAdjust="spacingAndGlyphs">)</tspan></text>
<text transform="translate(36.3,431.9) rotate(-90)" font-weight="bold"><tspan x="-1.80" font-size="41">(</tspan><tspan x="11.19" font-size="45.5" textLength="27.62" lengthAdjust="spacingAndGlyphs">α</tspan><tspan x="38.89" font-size="40.5">h</tspan><tspan x="60.97" font-size="46.5" textLength="21.98" lengthAdjust="spacingAndGlyphs">ν</tspan><tspan x="83.08" font-size="41">)</tspan><tspan x="96.98" font-size="25" textLength="14.58" lengthAdjust="spacingAndGlyphs" dy="-17.6">2</tspan></text>
</svg>
</body></html>
